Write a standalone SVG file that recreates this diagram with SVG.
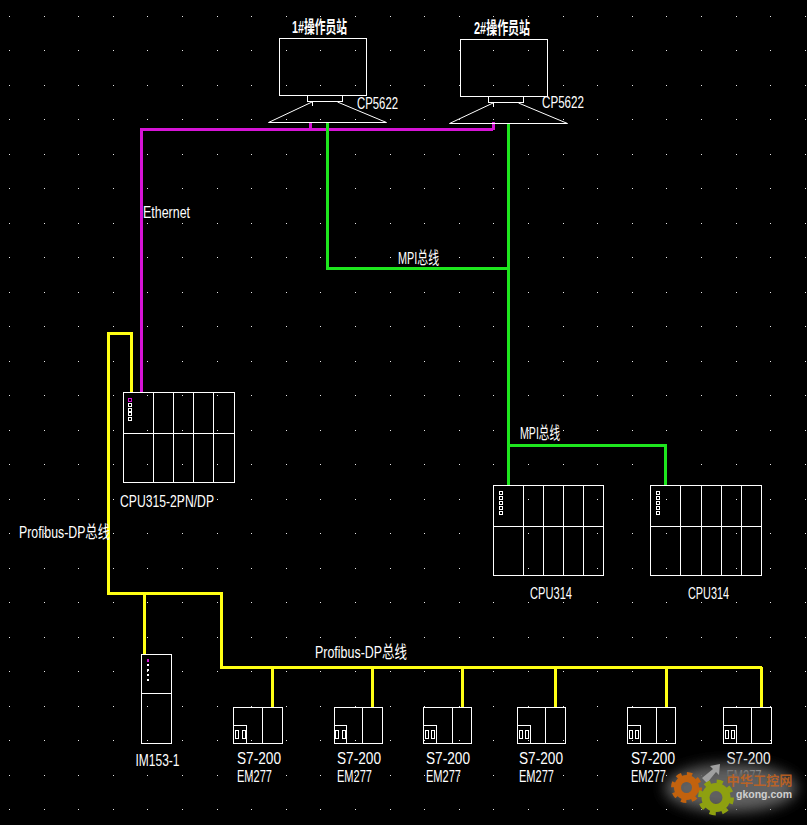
<svg xmlns="http://www.w3.org/2000/svg" width="807" height="825" viewBox="0 0 807 825">
<style>
.l{fill:none;stroke:#fff;stroke-width:1;shape-rendering:crispEdges}
.w{fill:none;stroke-width:3;shape-rendering:crispEdges}
.m{stroke:#d614d6}.g{stroke:#1ee61e}.y{stroke:#ffff14}
.t{fill:#fff;font-family:"Liberation Sans","Noto Sans CJK SC",sans-serif;font-size:17px}
.c{font-weight:bold}
</style>
<defs>
<filter id="blur" x="-30%" y="-40%" width="160%" height="180%"><feGaussianBlur stdDeviation="7"/></filter>
<g id="leds"><rect width="3" height="3" x="0" y="0" fill="none" stroke="#fff"/><rect width="3" height="3" x="0" y="5" fill="none" stroke="#fff"/><rect width="3" height="3" x="0" y="10" fill="none" stroke="#fff"/><rect width="3" height="3" x="0" y="15" fill="none" stroke="#fff"/><rect width="3" height="3" x="0" y="20" fill="none" stroke="#fff"/></g>
</defs>
<rect width="807" height="825" fill="#000"/>
<path id="grid" fill="none" stroke="#e8e8e8" stroke-width="1" stroke-dasharray="1 33.6" shape-rendering="crispEdges" d="M9 16H807M9 50.5H807M9 85H807M9 119.5H807M9 154H807M9 188.5H807M9 223H807M9 257.5H807M9 292H807M9 326.5H807M9 361H807M9 395.5H807M9 430H807M9 464.5H807M9 499H807M9 533.5H807M9 568H807M9 602.5H807M9 637H807M9 671.5H807M9 706H807M9 740.5H807M9 775H807M9 809.5H807"/>

<g id="connectors">
<path class="w m" d="M141.5 392V129.5H493M310.5 122V129M493.5 122V130"/>
<path class="w g" d="M327.5 122V268.5H508M508.5 123V485M508 445.5H665.5V485"/>
<path class="w y" d="M131 392V333.5H108.5V593.5H221.5V667.5H762M144.5 593V654M272.5 667V707M372.5 667V707M462.5 667V707M555.5 667V707M666.5 667V707M761.5 667V707"/>
</g>

<g id="station1">
<rect class="l" x="279.5" y="38.5" width="87" height="57"/>
<path class="l" d="M307.5 95.5V101.5H342.5V95.5M312.5 101.5V105.5"/>
<path fill="none" stroke="#fff" d="M312 102L268.5 122.5H386.5L337.5 102"/>
<text class="t c" x="292" y="33" textLength="55" lengthAdjust="spacingAndGlyphs">1#操作员站</text>
<text class="t" x="357" y="109" textLength="41" lengthAdjust="spacingAndGlyphs">CP5622</text>
</g>
<g id="station2">
<rect class="l" x="460.5" y="39.5" width="87" height="57"/>
<path class="l" d="M488.5 96.5V102.5H523.5V96.5M493.5 102.5V106.5"/>
<path fill="none" stroke="#fff" d="M493 103L449.5 123.5H567.5L518.5 103"/>
<text class="t c" x="474" y="34" textLength="56" lengthAdjust="spacingAndGlyphs">2#操作员站</text>
<text class="t" x="542" y="108" textLength="42" lengthAdjust="spacingAndGlyphs">CP5622</text>
</g>

<g id="labels">
<text class="t" x="143" y="218" textLength="47" lengthAdjust="spacingAndGlyphs">Ethernet</text>
<text class="t" x="398" y="264" textLength="41" lengthAdjust="spacingAndGlyphs">MPI总线</text>
<text class="t" x="520" y="439" textLength="40" lengthAdjust="spacingAndGlyphs">MPI总线</text>
<text class="t" x="19" y="538" textLength="91" lengthAdjust="spacingAndGlyphs">Profibus-DP总线</text>
<text class="t" x="315" y="658" textLength="92" lengthAdjust="spacingAndGlyphs">Profibus-DP总线</text>
</g>

<g id="cpu315">
<rect class="l" x="123.5" y="392.5" width="111" height="90"/>
<path class="l" d="M123 433.5H235M153.5 392V482M173.5 392V482M193.5 392V482M213.5 392V482"/>
<g class="l"><rect x="128.5" y="398.5" width="3" height="3" style="stroke:#d614d6"/><rect x="128.5" y="403.5" width="3" height="3"/><rect x="128.5" y="408.5" width="3" height="3"/><rect x="128.5" y="412.5" width="3" height="3"/><rect x="128.5" y="417.5" width="3" height="3"/></g>
<text class="t" x="120" y="507" textLength="94" lengthAdjust="spacingAndGlyphs">CPU315-2PN/DP</text>
</g>
<g id="cpu314a">
<rect class="l" x="493.5" y="485.5" width="110" height="90"/>
<path class="l" d="M493 526.5H604M523.5 485V575M543.5 485V575M563.5 485V575M583.5 485V575"/>
<g class="l"><use href="#leds" x="499" y="491"/></g>
<text class="t" x="530" y="599" textLength="42" lengthAdjust="spacingAndGlyphs">CPU314</text>
</g>
<g id="cpu314b">
<rect class="l" x="650.5" y="485.5" width="111" height="90"/>
<path class="l" d="M650 526.5H762M680.5 485V575M701.5 485V575M721.5 485V575M741.5 485V575"/>
<g class="l"><use href="#leds" x="656" y="491"/></g>
<text class="t" x="688" y="599" textLength="41" lengthAdjust="spacingAndGlyphs">CPU314</text>
</g>
<g id="im153">
<rect class="l" x="141.5" y="654.5" width="30" height="89"/>
<path class="l" d="M141 693.5H172"/>
<g shape-rendering="crispEdges" fill="#fff"><rect x="147" y="659" width="2" height="3" fill="#d614d6"/><rect x="147" y="664" width="2" height="2"/><rect x="147" y="669" width="2" height="2"/><rect x="147" y="674" width="2" height="2"/><rect x="147" y="679" width="2" height="2"/></g>
<text class="t" x="135.500" y="766" textLength="44" lengthAdjust="spacingAndGlyphs">IM153-1</text>
</g>

<g id="em277-1">
<rect class="l" x="233.500" y="707.500" width="49" height="36"/>
<path class="l" d="M262.500 707V743M233 725.500H246.500V743M235.500 730.500H238.500V738.500H235.500ZM242.500 730.500H245.500V738.500H242.500Z"/>
<text class="t" x="237" y="764" textLength="44" lengthAdjust="spacingAndGlyphs">S7-200</text>
<text class="t" x="237" y="782" textLength="35" lengthAdjust="spacingAndGlyphs">EM277</text>
</g>
<g id="em277-2">
<rect class="l" x="334.500" y="707.500" width="48" height="36"/>
<path class="l" d="M362.500 707V743M334 725.500H346.500V743M335.500 730.500H338.500V738.500H335.500ZM342.500 730.500H345.500V738.500H342.500Z"/>
<text class="t" x="337" y="764" textLength="44" lengthAdjust="spacingAndGlyphs">S7-200</text>
<text class="t" x="337" y="782" textLength="35" lengthAdjust="spacingAndGlyphs">EM277</text>
</g>
<g id="em277-3">
<rect class="l" x="423.500" y="707.500" width="48" height="36"/>
<path class="l" d="M452.500 707V743M423 725.500H436.500V743M425.500 730.500H428.500V738.500H425.500ZM431.500 730.500H434.500V738.500H431.500Z"/>
<text class="t" x="426" y="764" textLength="44" lengthAdjust="spacingAndGlyphs">S7-200</text>
<text class="t" x="426" y="782" textLength="35" lengthAdjust="spacingAndGlyphs">EM277</text>
</g>
<g id="em277-4">
<rect class="l" x="517.500" y="707.500" width="48" height="36"/>
<path class="l" d="M545.500 707V743M517 725.500H530.500V743M519.500 730.500H522.500V738.500H519.500ZM525.500 730.500H528.500V738.500H525.500Z"/>
<text class="t" x="519" y="764" textLength="44" lengthAdjust="spacingAndGlyphs">S7-200</text>
<text class="t" x="519" y="782" textLength="35" lengthAdjust="spacingAndGlyphs">EM277</text>
</g>
<g id="em277-5">
<rect class="l" x="627.500" y="707.500" width="48" height="36"/>
<path class="l" d="M656.500 707V743M627 725.500H640.500V743M629.500 730.500H632.500V738.500H629.500ZM635.500 730.500H638.500V738.500H635.500Z"/>
<text class="t" x="631" y="764" textLength="44" lengthAdjust="spacingAndGlyphs">S7-200</text>
<text class="t" x="631" y="782" textLength="35" lengthAdjust="spacingAndGlyphs">EM277</text>
</g>
<g id="em277-6">
<rect class="l" x="723.500" y="707.500" width="48" height="36"/>
<path class="l" d="M751.500 707V743M723 725.500H736.500V743M725.500 730.500H728.500V738.500H725.500ZM731.500 730.500H734.500V738.500H731.500Z"/>
<text class="t" x="726.500" y="764" textLength="44" lengthAdjust="spacingAndGlyphs">S7-200</text>
<text class="t" x="726.500" y="782" textLength="35" lengthAdjust="spacingAndGlyphs">EM277</text>
</g>

<g id="watermark">
<ellipse cx="731" cy="788" rx="66" ry="24" fill="#606060" filter="url(#blur)"/>
<path d="M702 778L713 769L710 766L720 764L719 775L716 772L707 783Z" fill="#a0a0a0"/>
<circle cx="686.500" cy="787.500" r="9" fill="none" stroke="#c2620e" stroke-width="7"/>
<circle cx="686.500" cy="787.500" r="13.500" fill="none" stroke="#c2620e" stroke-width="4" stroke-dasharray="5.300 5.300"/>
<circle cx="716" cy="797.500" r="10.500" fill="none" stroke="#8ea010" stroke-width="8"/>
<circle cx="716" cy="797.500" r="16" fill="none" stroke="#8ea010" stroke-width="4" stroke-dasharray="6.300 6.300"/>
<text x="726.500" y="785" textLength="66" lengthAdjust="spacingAndGlyphs" font-size="13" font-weight="bold" fill="#c8641e" fill-opacity="0.85" font-family="'Noto Sans CJK SC',sans-serif">中华工控网</text>
<text x="736" y="798" textLength="56" lengthAdjust="spacingAndGlyphs" font-size="11" font-weight="bold" fill="#cfcfcf" font-family="'Liberation Sans',sans-serif">gkong.com</text>
</g>
</svg>
